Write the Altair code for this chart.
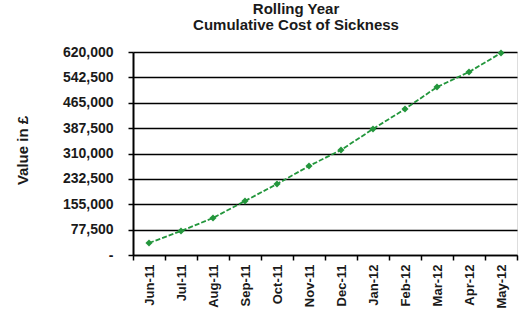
import altair as alt
import pandas as pd

# Rolling-year cumulative cost of sickness, by month
months = ["Jun-11", "Jul-11", "Aug-11", "Sep-11", "Oct-11", "Nov-11",
          "Dec-11", "Jan-12", "Feb-12", "Mar-12", "Apr-12", "May-12"]
cost = [36600, 73300, 113000, 165000, 216800, 271800,
        320700, 384800, 445900, 513000, 558900, 616900]
y_ticks = [0, 77500, 155000, 232500, 310000, 387500, 465000, 542500, 620000]

df = pd.DataFrame({"month": months, "cost": cost})

FONT = "Liberation Sans"
GREEN = "#23963c"
INK = "#1a1a1a"

x = alt.X(
    "month:N",
    sort=months,
    scale=alt.Scale(paddingInner=0, paddingOuter=0),
    axis=alt.Axis(
        title=None,
        labelAngle=270,
        labelAlign="right",
        labelBaseline="middle",
        labelFont=FONT,
        labelFontSize=13,
        labelFontWeight="bold",
        labelColor=INK,
        labelPadding=4,
        tickBand="extent",
        tickColor="black",
        tickSize=5,
        tickWidth=1.5,
        domainColor="black",
        domainWidth=1.5,
        grid=False,
    ),
)

y = alt.Y(
    "cost:Q",
    scale=alt.Scale(domain=[0, 620000], nice=False),
    axis=alt.Axis(
        title="Value in £",
        titleFont=FONT,
        titleFontSize=15,
        titleFontWeight="bold",
        titleColor=INK,
        titleAngle=270,
        titleAlign="center",
        titleBaseline="middle",
        titleX=-111,
        titleY=98,
        values=y_ticks,
        labelExpr="datum.value == 0 ? '-' : format(datum.value, ',')",
        labelFont=FONT,
        labelFontSize=14,
        labelFontWeight="bold",
        labelColor=INK,
        labelPadding=15,
        tickColor="black",
        tickSize=5,
        tickWidth=1.5,
        domainColor="black",
        domainWidth=2,
        grid=True,
        gridColor="black",
        gridWidth=1.3,
    ),
)

line = alt.Chart(df).mark_line(
    color=GREEN, strokeWidth=1.8, strokeDash=[5, 2]
).encode(x=x, y=y)

points = alt.Chart(df).mark_point(
    shape="diamond", filled=True, color=GREEN, size=50, opacity=1
).encode(x=x, y=y)

chart = (
    alt.layer(line, points)
    .properties(
        width=384,
        height=203,
        autosize=alt.AutoSizeParams(type="none"),
        padding={"left": 133, "top": 52, "right": 15, "bottom": 72},
        title=alt.TitleParams(
            text=["Rolling Year", "Cumulative Cost of Sickness"],
            font=FONT,
            fontSize=15,
            fontWeight="bold",
            color=INK,
            anchor="middle",
            frame="group",
            dx=-29,
            offset=12,
            lineHeight=16,
        ),
    )
    .configure_view(stroke="#777", strokeWidth=1.2)
    .configure(background="white")
)

chart.save("out.html", embed_options={"renderer": "svg", "actions": False})
